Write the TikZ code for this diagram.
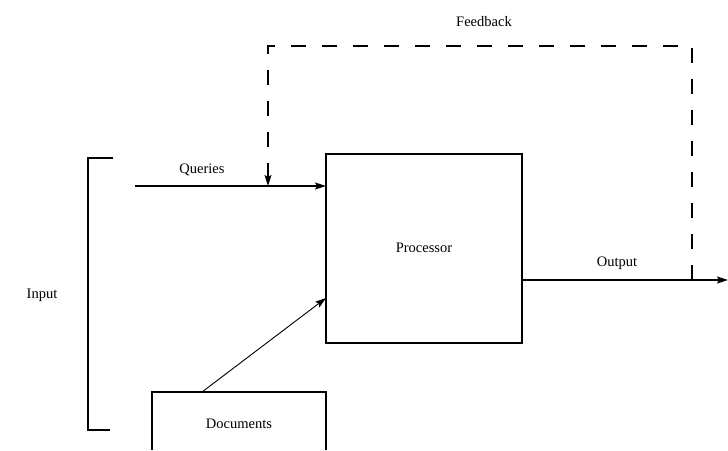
\documentclass[tikz,border=0pt]{standalone}
\usepackage{fontspec}
\setmainfont{Liberation Serif}
\usetikzlibrary{arrows.meta}
\begin{document}
\begin{tikzpicture}[x=1pt,y=-1pt,
  line/.style={line width=1.1pt},
  tip/.style={-{Stealth[length=11pt,width=7pt,inset=2pt]}},
  lbl/.style={font=\fontsize{14.5}{17}\selectfont, inner sep=0pt},
  fb/.style={line width=1.1pt, dash pattern=on 15pt off 16pt}]
  \useasboundingbox (0,0) rectangle (728,450);
  % main blocks
  \draw[line] (326,154) rectangle (522,343);
  \node[lbl] (proc) at (424,248) {Processor};
  \coordinate (procW) at (326,186);
  \coordinate (procD) at (326,298);
  \coordinate (procE) at (522,280);
  \draw[line] (326,450) -- (326,392) -- (152,392) -- (152,450);
  \node[lbl] (docs) at (239,424) {Documents};
  \coordinate (docsN) at (202,392);
  % input bracket
  \draw[line] (113,158) -- (88,158) -- (88,430) -- (110,430);
  \node[lbl] (input) at (42,295) {Input};
  % queries
  \coordinate (qstart) at (135,186);
  \draw[line,tip] (qstart) -- (procW);
  \node[lbl] (q) at (202,170) {Queries};
  % documents into processor
  \draw[line width=0.9pt,tip] (docsN) -- (procD);
  % output
  \coordinate (outEnd) at (728,280);
  \draw[line,tip] (procE) -- (outEnd);
  \node[lbl] (out) at (617,263) {Output};
  % feedback loop
  \coordinate (fbA) at (692,280);
  \coordinate (fbB) at (692,46);
  \coordinate (fbC) at (268,46);
  \coordinate (fbD) at (268,186);
  \draw[fb] (fbA) -- (fbB) -- (fbC) -- (268,172);
  \draw[line,tip] (268,170) -- (fbD);
  \node[lbl] (fbl) at (484,22) {Feedback};
\end{tikzpicture}
\end{document}
